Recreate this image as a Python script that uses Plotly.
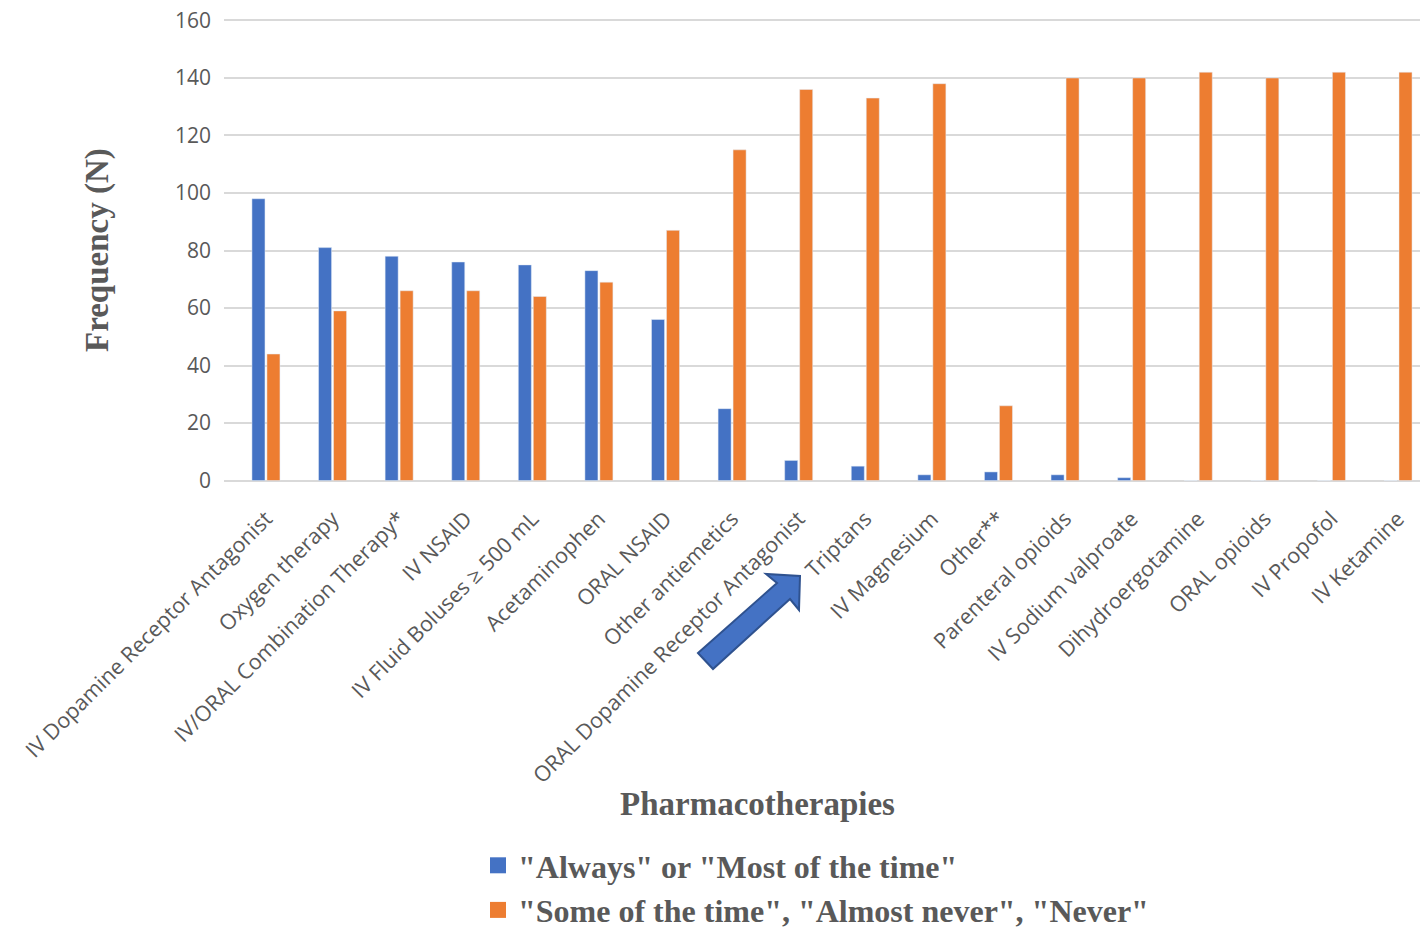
import plotly.graph_objects as go

# Pharmacotherapy categories and response counts
therapies = [
    "IV Dopamine Receptor Antagonist", "Oxygen therapy", "IV/ORAL Combination Therapy*",
    "IV NSAID", "IV Fluid Boluses \u2265 500 mL", "Acetaminophen", "ORAL NSAID",
    "Other antiemetics", "ORAL Dopamine Receptor Antagonist", "Triptans", "IV Magnesium",
    "Other**", "Parenteral opioids", "IV Sodium valproate", "Dihydroergotamine",
    "ORAL opioids", "IV Propofol", "IV Ketamine",
]
always_most = [98, 81, 78, 76, 75, 73, 56, 25, 7, 5, 2, 3, 2, 1, 0, 0, 0, 0]
some_rarely_never = [44, 59, 66, 66, 64, 69, 87, 115, 136, 133, 138, 26, 140, 140, 142, 140, 142, 142]

series_names = ['"Always" or "Most of the time"',
                '"Some of the time", "Almost never", "Never"']
y_ticks = [0, 20, 40, 60, 80, 100, 120, 140, 160]

BLUE = "#4472C4"
ORANGE = "#ED7D31"
GREY_TEXT = "#595959"
GRID = "#D9D9D9"

W, H = 1420, 928
M_L, M_R, M_T, M_B = 224, 0, 19, 446
PLOT_W = W - M_L - M_R
PLOT_H = H - M_T - M_B


def to_paper(px, py):
    return (px - M_L) / PLOT_W, (H - M_B - py) / PLOT_H


fig = go.Figure()
fig.add_trace(go.Bar(x=therapies, y=always_most, name=series_names[0],
                     marker=dict(color=BLUE), showlegend=False))
fig.add_trace(go.Bar(x=therapies, y=some_rarely_never, name=series_names[1],
                     marker=dict(color=ORANGE), showlegend=False))

# legend swatches as square markers
for name, col in zip(series_names, [BLUE, ORANGE]):
    fig.add_trace(go.Scatter(x=[None], y=[None], mode="markers", name=name,
                             marker=dict(symbol="square", size=16, color=col)))

# block arrow pointing at the Triptans label
arrow_px = [(698, 653), (777, 583), (766, 574), (800, 576), (799, 610), (790, 599), (713, 669)]
pts = [to_paper(x, y) for x, y in arrow_px]
path = "M " + " L ".join(f"{x:.5f},{y:.5f}" for x, y in pts) + " Z"
fig.add_shape(type="path", path=path, xref="paper", yref="paper",
              fillcolor=BLUE, line=dict(color="#2F528F", width=2), layer="above")

title_font = dict(family="Liberation Serif", size=33, color=GREY_TEXT, weight="bold")

yx, yy = to_paper(97, 250)
fig.add_annotation(text="Frequency (N)", textangle=-90, xref="paper", yref="paper",
                   x=yx, y=yy, xanchor="center", yanchor="middle",
                   showarrow=False, font=title_font)
tx, ty = to_paper(757, 804)
fig.add_annotation(text="Pharmacotherapies", xref="paper", yref="paper",
                   x=tx, y=ty, xanchor="center", yanchor="middle",
                   showarrow=False, font=title_font)

lx, ly = to_paper(478, 838)
fig.update_layout(
    width=W, height=H,
    margin=dict(l=M_L, r=M_R, t=M_T, b=M_B, pad=0, autoexpand=False),
    paper_bgcolor="white", plot_bgcolor="white",
    barmode="group", bargap=0.55, bargroupgap=0.13,
    font=dict(family="Open Sans", color=GREY_TEXT),
    legend=dict(x=lx, y=ly, xanchor="left", yanchor="top",
                font=dict(family="Liberation Serif", size=32, color=GREY_TEXT, weight="bold"),
                itemwidth=30, tracegroupgap=0, bgcolor="rgba(0,0,0,0)"),
    xaxis=dict(range=[-0.63, 17.33], showgrid=False, showline=False, zeroline=False,
               automargin=False, tickangle=-45, tickfont=dict(size=21.5, color=GREY_TEXT),
               ticks="", ticklabelstandoff=19),
    yaxis=dict(range=[-0.5, 160.5], tickvals=y_ticks, showgrid=True, gridcolor=GRID,
               gridwidth=1.5, zeroline=False, showline=False, ticks="", automargin=False,
               tickfont=dict(size=21, color=GREY_TEXT), ticklabelstandoff=12),
)

fig.write_html("out.html")
